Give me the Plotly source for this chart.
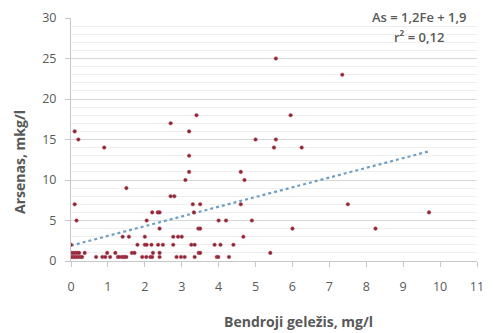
import plotly.graph_objects as go

fe = [0.1, 0.2, 0.9, 1.5, 0.1, 0.15, 0.0,
      2.7, 3.4, 3.2, 3.2, 3.2, 3.1,
      2.7, 2.8, 3.3, 3.5, 2.05, 2.2, 2.35, 2.4, 3.33,
      2.4, 3.45, 3.5,
      5.55, 7.35, 5.95, 5.0, 5.55, 5.5, 6.25,
      4.6, 4.7, 4.6, 4.0, 4.2, 4.9, 6.0, 7.5, 8.25, 9.7,
      1.4, 1.57, 2.0, 2.77, 2.9, 3.0, 4.67,
      1.8, 2.0, 2.05, 2.18, 2.36, 2.49, 2.77, 3.26, 3.35, 3.89, 4.05, 4.4,
      0.02, 0.07, 0.12, 0.17, 0.22, 0.37, 0.98, 1.2, 1.65, 1.72, 2.22, 2.4, 3.46, 3.5, 5.4,
      0.0, 0.04, 0.08, 0.12, 0.17, 0.22, 0.27, 0.3, 0.68, 0.85, 0.93, 1.06, 1.27, 1.3,
      1.37, 1.42, 1.46, 1.5, 1.93, 2.04, 2.15, 2.2, 2.4, 2.86, 2.98, 3.08, 3.35, 3.95, 3.99, 4.28]

arsenas = [16, 15, 14, 9, 7, 5, 2,
           17, 18, 16, 13, 11, 10,
           8, 8, 7, 7, 5, 6, 6, 6, 6,
           4, 4, 4,
           25, 23, 18, 15, 15, 14, 14,
           11, 10, 7, 5, 5, 5, 4, 7, 4, 6,
           3, 3, 3, 3, 3, 3, 3,
           2, 2, 2, 2, 2, 2, 2, 2, 2, 2, 2, 2,
           1, 1, 1, 1, 1, 1, 1, 1, 1, 1, 1, 1, 1, 1, 1,
           0.5, 0.5, 0.5, 0.5, 0.5, 0.5, 0.5, 0.5, 0.5, 0.5, 0.5, 0.5, 0.5, 0.5,
           0.5, 0.5, 0.5, 0.5, 0.5, 0.5, 0.5, 0.5, 0.5, 0.5, 0.5, 0.5, 0.5, 0.5, 0.5, 0.5]

slope = 1.2
intercept = 1.9
equation_text = "As = 1,2Fe + 1,9"
r2_text = "r² = 0,12"
x_title = "Bendroji geležis, mg/l"
y_title = "Arsenas, mkg/l"

trend_x = [min(fe), max(fe)]
trend_y = [slope * v + intercept for v in trend_x]

GRAY = "#595959"
FONT = "Open Sans"

fig = go.Figure()
fig.add_trace(go.Scatter(
    x=trend_x, y=trend_y, mode="lines",
    line=dict(color="#6f9fc6", width=2.2, dash="dot"),
    hoverinfo="skip", showlegend=False))
fig.add_trace(go.Scatter(
    x=fe, y=arsenas, mode="markers",
    marker=dict(color="#8e2236", size=3.6, line=dict(width=0.5, color="#b4525e")),
    showlegend=False))

W, H = 493, 333
L, R, T, B = 71, 9, 18, 72
pw, ph = W - L - R, H - T - B

def px(xp):
    return (xp - L) / pw

def py(yp):
    return (H - B - yp) / ph

def note(text, x, y, size, weight, angle=0):
    return dict(text=text, x=px(x), y=py(y), xref="paper", yref="paper",
                xanchor="center", yanchor="middle", showarrow=False, textangle=angle,
                font=dict(family=FONT, size=size, color=GRAY, weight=weight))

fig.update_layout(
    width=W, height=H,
    margin=dict(l=L, r=R, t=T, b=B),
    paper_bgcolor="white", plot_bgcolor="white",
    font=dict(family=FONT, color=GRAY, size=12.5),
    xaxis=dict(range=[0, 11], dtick=1, tick0=0, showgrid=False, zeroline=False,
               showline=True, linecolor="#c8c8c8", linewidth=1,
               ticks="outside", ticklen=5, tickcolor="#c8c8c8",
               ticklabelstandoff=9,
               tickfont=dict(family=FONT, size=12.5, color=GRAY)),
    yaxis=dict(range=[0, 30], dtick=5, tick0=0, showgrid=True, gridcolor="#d9d9d9",
               zeroline=False, showline=True, linecolor="#c8c8c8", linewidth=1,
               ticks="outside", ticklen=5, tickcolor="#c8c8c8",
               ticklabelstandoff=6,
               tickfont=dict(family=FONT, size=12.5, color=GRAY),
               minor=dict(dtick=1, showgrid=True, gridcolor="#efefef", ticks="")),
    annotations=[
        note(equation_text, 425, 17, 13, 600),
        note(r2_text, 425, 37, 13, 600),
        note(x_title, 302, 321, 14, "bold"),
        note(y_title, 18, 162, 14, "bold", -90),
    ],
)

fig.write_html("out.html")
